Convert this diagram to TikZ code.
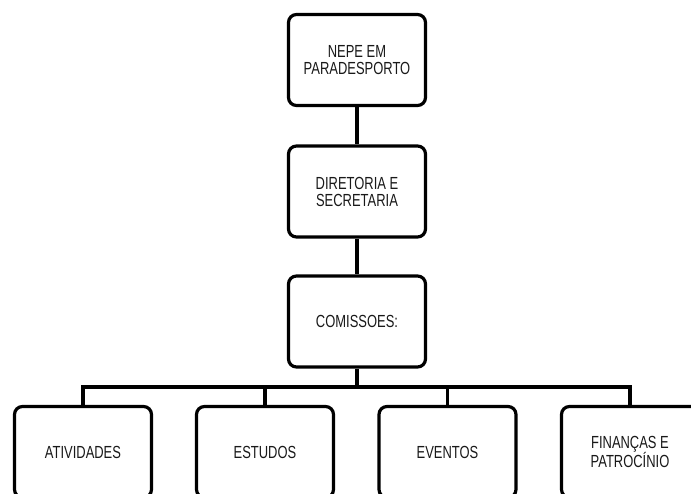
\documentclass[tikz,border=0pt]{standalone}
\usepackage{fontspec}
\setmainfont{Liberation Sans}[FakeStretch=0.74]
\usetikzlibrary{positioning}

\begin{document}
\begin{tikzpicture}[x=1pt, y=-1pt, line width=3.2pt,
  caixa/.style={shape=rectangle, rounded corners=8pt, minimum height=91pt, minimum width=137pt, draw=black, fill=white, align=center, font=\fontsize{17.5}{17}\selectfont, text=black!90}]
\useasboundingbox (0,0) rectangle (691,494);
\clip (0,0) rectangle (691,494);
\node[caixa] (nepe) at (357,60) {NEPE EM\\PARADESPORTO};
\node[caixa] (dire) at (357,191.5) {DIRETORIA E\\SECRETARIA};
\node[caixa] (comi) at (357,321.5) {COMISSOES:};
\coordinate (barra) at (357,387);
\node[caixa] (ativ) at (83,452) {ATIVIDADES};
\node[caixa] (estu) at (265,452) {ESTUDOS};
\node[caixa] (even) at (447.5,452) {EVENTOS};
\node[caixa] (fina) at (630,452) {FINANÇAS E\\PATROCÍNIO};
\draw (nepe) -- (dire); \draw (dire) -- (comi);
\draw (comi) -- (barra);
\foreach \n in {ativ, estu, even, fina} \draw (barra) -| (\n);
\end{tikzpicture}
\end{document}
